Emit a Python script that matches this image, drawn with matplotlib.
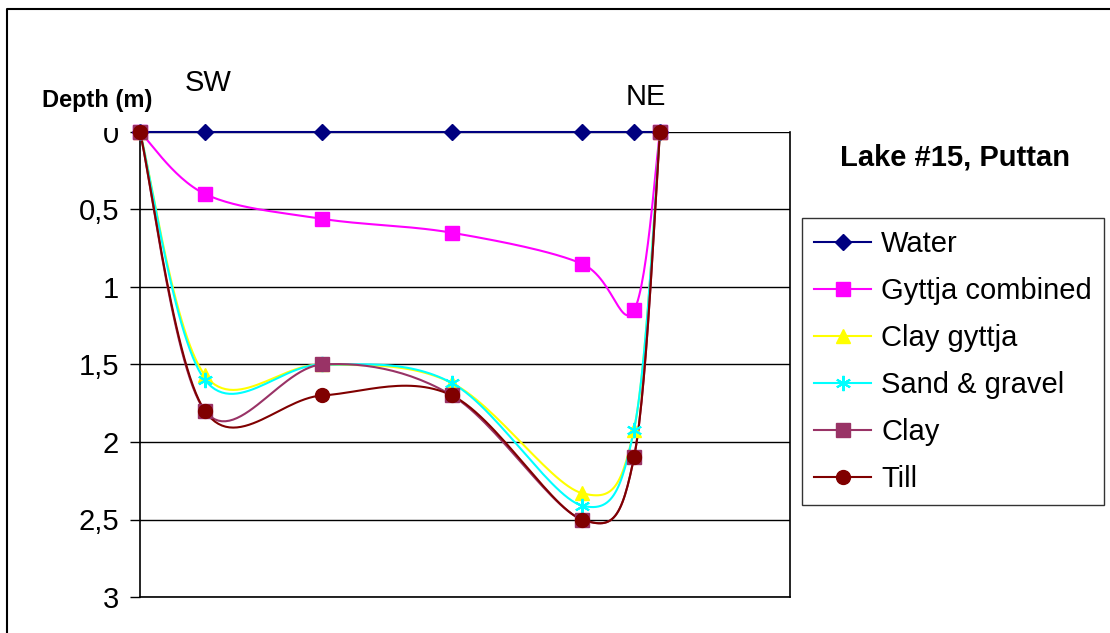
import numpy as np
import matplotlib
matplotlib.use("Agg")
import matplotlib.pyplot as plt
from matplotlib.lines import Line2D
from matplotlib.transforms import Bbox, TransformedBbox

plt.rcParams['font.family'] = ['Liberation Sans', 'DejaVu Sans']

# distance along the transect (m) and depth of each layer boundary (m)
distance = [0, 50, 140, 240, 340, 380, 400]
water = [0, 0, 0, 0, 0, 0, 0]
gyttja_combined = [0, 0.4, 0.56, 0.65, 0.85, 1.15, 0]
clay_gyttja = [0, 1.57, 1.5, 1.62, 2.33, 1.92, 0]
sand_gravel = [0, 1.6, 1.5, 1.62, 2.41, 1.92, 0]
clay = [0, 1.8, 1.5, 1.7, 2.5, 2.1, 0]
till = [0, 1.8, 1.7, 1.7, 2.5, 2.1, 0]

series = [
    ("Water", water, "#000080", "D", 8),
    ("Gyttja combined", gyttja_combined, "#FF00FF", "s", 10),
    ("Clay gyttja", clay_gyttja, "#FFFF00", "^", 10),
    ("Sand & gravel", sand_gravel, "#00FFFF", (6, 2, 0), 11),
    ("Clay", clay, "#993366", "s", 10),
    ("Till", till, "#800000", "o", 10),
]
y_ticks = [0, 0.5, 1, 1.5, 2, 2.5, 3]
y_labels = ["0", "0,5", "1", "1,5", "2", "2,5", "3"]


def smooth(xs, ys, n=30):
    # Catmull-Rom curve through the points (spreadsheet-style smoothed line)
    p = np.column_stack([xs, ys]).astype(float)
    p = np.vstack([p[0], p, p[-1]])
    out = []
    t = np.linspace(0, 1, n)[:, None]
    for i in range(1, len(p) - 2):
        p0, p1, p2, p3 = p[i - 1], p[i], p[i + 1], p[i + 2]
        c1 = p1 + (p2 - p0) / 6
        c2 = p2 - (p3 - p1) / 6
        seg = ((1 - t) ** 3) * p1 + 3 * ((1 - t) ** 2) * t * c1 \
            + 3 * (1 - t) * t ** 2 * c2 + t ** 3 * p2
        out.append(seg if i == 1 else seg[1:])
    out = np.vstack(out)
    return out[:, 0], out[:, 1]


W, H = 1110, 633
fig = plt.figure(figsize=(W / 100, H / 100), dpi=100)
ax = fig.add_axes([140 / W, 1 - 597 / H, 650 / W, 465 / H])

handles = []
for name, vals, col, mk, ms in series:
    sx, sy = smooth(distance, vals)
    ax.plot(sx, sy, color=col, lw=1.5, zorder=3, clip_on=False)
    mew = 1.5 if mk == (6, 2, 0) else 1
    ax.plot(distance, vals, ls="none", marker=mk, ms=ms, color=col,
            mec=col, mew=mew, zorder=4, clip_on=False)
    handles.append(Line2D([], [], color=col, lw=1.5, marker=mk, ms=ms,
                          mec=col, mew=mew))

ax.set_xlim(0, 500)
ax.set_ylim(3, 0)
ax.set_yticks(y_ticks)
ax.set_yticklabels(y_labels, fontsize=21)
ax.set_xticks([])
ax.grid(axis="y", color="black", lw=1)
ax.set_axisbelow(True)
for s in ax.spines.values():
    s.set_color("black")
    s.set_linewidth(1.2)
ax.spines["top"].set_visible(False)
ax.tick_params(axis="y", length=7, width=1, pad=8, colors="black")

# the top label sits partly above the outer plot area and gets cut
clip = TransformedBbox(Bbox([[0, 0], [1, 1 - 128 / H]]), fig.transFigure)
for lbl in ax.get_yticklabels():
    lbl.set_clip_box(clip)
    lbl.set_clip_on(True)

fig.text(97 / W, 1 - 100 / H, "Depth (m)", fontsize=17, fontweight="bold",
         ha="center", va="center")
fig.text(208 / W, 1 - 83 / H, "SW", fontsize=21, ha="center", va="center")
fig.text(646 / W, 1 - 97 / H, "NE", fontsize=21, ha="center", va="center")
fig.text(955 / W, 1 - 158 / H, "Lake #15, Puttan", fontsize=21,
         fontweight="bold", ha="center", va="center")

leg = fig.legend(handles, [s[0] for s in series], loc="upper left",
                 bbox_to_anchor=(802 / W, 1 - 218 / H), borderaxespad=0,
                 fontsize=21, frameon=True, fancybox=False, handlelength=1.95,
                 handletextpad=0.35, labelspacing=0.65, borderpad=0.42)
leg.get_frame().set_edgecolor("black")
leg.get_frame().set_linewidth(1)

# chart border
fig.add_artist(Line2D([7 / W, 7 / W, 1], [0, 1 - 9 / H, 1 - 9 / H],
                      transform=fig.transFigure, color="black", lw=1.5))

fig.savefig("out.png", dpi=100)
